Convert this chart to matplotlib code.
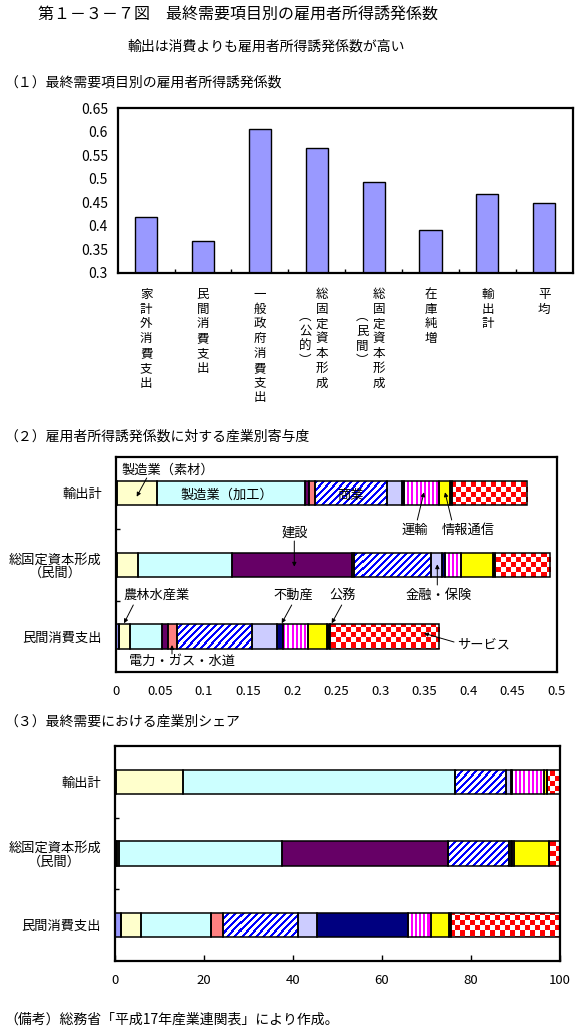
import numpy as np
import matplotlib.pyplot as plt
from matplotlib.colors import to_rgb

plt.rcParams['font.family'] = ['Noto Sans CJK JP', 'DejaVu Sans']
plt.rcParams['font.size'] = 9.5

# ---- data ----
# (1) coefficients by final demand item
cats1 = ['家計外消費支出', '民間消費支出', '一般政府消費支出', '総固定資本形成（公的）',
         '総固定資本形成（民間）', '在庫純増', '輸出計', '平均']
coef1 = [0.418, 0.367, 0.605, 0.565, 0.4925, 0.390, 0.467, 0.448]

# industries (stack order) and their fills
industries = ['農林水産業', '鉱業', '製造業（素材）', '製造業（加工）', '建設', '電力・ガス・水道',
              '商業', '金融・保険', '不動産', '運輸', '情報通信', '公務', 'サービス']
fills = [('solid', '#9999FF'), ('solid', '#000000'), ('solid', '#FFFFCC'), ('solid', '#CCFFFF'),
         ('solid', '#660066'), ('solid', '#FF8080'), ('diag', '#0000FF'), ('solid', '#CCCCFF'),
         ('solid', '#000080'), ('vert', '#FF00FF'), ('solid', '#FFFF00'), ('solid', '#000000'),
         ('check', '#FF0000')]

rows = ['民間消費支出', '総固定資本形成\n（民間）', '輸出計']   # bottom -> top

# (2) contribution by industry
contrib_consume = [0.0035, 0.0005, 0.012, 0.0368, 0.0068, 0.0096, 0.0857, 0.0276, 0.0075, 0.028, 0.022, 0.0025, 0.1245]
contrib_invest = [0.0005, 0.0005, 0.024, 0.1065, 0.136, 0.003, 0.0865, 0.0135, 0.0025, 0.019, 0.036, 0.002, 0.0625]
contrib_export = [0.0005, 0.0005, 0.0458, 0.168, 0.0042, 0.0071, 0.0817, 0.0165, 0.003, 0.039, 0.0125, 0.002, 0.086]

# (3) industry share of final demand (%)
share_consume = [1.4, 0.0, 4.4, 15.7, 0.0, 2.7, 16.9, 4.3, 20.5, 5.2, 3.9, 0.5, 24.5]
share_invest = [0.2, 0.3, 0.3, 36.8, 37.3, 0.0, 13.7, 0.5, 0.2, 0.4, 7.8, 0.0, 2.5]
share_export = [0.1, 0.1, 15.2, 61.0, 0.0, 0.1, 11.5, 1.0, 0.2, 7.2, 0.8, 0.0, 2.8]

W, H = 581, 1033
fig = plt.figure(figsize=(W / 100, H / 100), dpi=100)


def ax_at(x0, y0, x1, y1):
    return fig.add_axes([x0 / W, 1 - y1 / H, (x1 - x0) / W, (y1 - y0) / H])


def ftext(x, y, s, **kw):
    fig.text(x / W, 1 - y / H, s, va='center', **kw)


def frame(ax):
    for sp in ax.spines.values():
        sp.set_linewidth(1.6)


ftext(38, 15, '第１－３－７図　最終需要項目別の雇用者所得誘発係数', fontsize=11.5)
ftext(266, 47, '輸出は消費よりも雇用者所得誘発係数が高い', ha='center', fontsize=10)
ftext(4, 83, '（１）最終需要項目別の雇用者所得誘発係数', fontsize=10)
ftext(4, 437, '（２）雇用者所得誘発係数に対する産業別寄与度', fontsize=10)
ftext(4, 722, '（３）最終需要における産業別シェア', fontsize=10)
ftext(4, 1020, '（備考）総務省「平成17年産業連関表」により作成。', fontsize=10)

# ---- (1) ----
ax1 = ax_at(117.7, 108.3, 572.7, 272.7)
x = np.arange(len(cats1))
ax1.bar(x, coef1, width=0.39, color='#9999FF', edgecolor='black', linewidth=1.0, zorder=2)
ax1.set_xlim(-0.5, len(cats1) - 0.5)
ax1.set_ylim(0.3, 0.65)
yt = np.arange(0.3, 0.651, 0.05)
ax1.set_yticks(yt)
ax1.set_yticklabels(['%g' % round(v, 2) for v in yt], fontsize=10)
ax1.tick_params(axis='y', length=0, pad=7)
ax1.set_xticks(x)
ax1.set_xticklabels([])
ax1.tick_params(axis='x', which='major', length=0)
ax1.set_xticks(np.arange(0.5, len(cats1) - 0.5), minor=True)
ax1.tick_params(axis='x', which='minor', direction='in', length=3, width=1)
frame(ax1)

px = 0.72  # points per pixel
for i, lab in enumerate(cats1):
    if '（' in lab:
        main, par = lab.split('（')
        par = '︵' + par.rstrip('）') + '︶'
        cols = [(main, 5, 0), (par, -11.5, (len(main) - len(par)) / 2)]
    else:
        cols = [(lab, 0, 0)]
    for s, dx, shift in cols:
        for k, ch in enumerate(s):
            ax1.annotate(ch, xy=(i, 0), xycoords=ax1.get_xaxis_transform(),
                         xytext=(dx * px, -(15 + (k + shift) * 14.8) * px),
                         textcoords='offset points', ha='center', va='top', fontsize=9)


# ---- stacked helpers ----
def pattern_img(kind, w, h, color):
    r, c = np.mgrid[0:h, 0:w]
    if kind == 'diag':
        mask = ((c + r) % 7) < 3
    elif kind == 'vert':
        mask = (c % 4) < 2
    else:
        mask = ((c // 5) + (r // 5)) % 2 == 0
    img = np.ones((h, w, 3))
    img[mask] = to_rgb(color)
    return img


def stacked(ax, data, height, xmax):
    data = np.array(data)
    ypos = np.arange(len(data))
    ax.set_xlim(0, xmax)
    ax.set_ylim(-0.5, len(data) - 0.5)
    w, h = int(round(ax.bbox.width)), int(round(ax.bbox.height))
    left = np.zeros(len(data))
    for j in range(len(industries)):
        vals = data[:, j]
        kind, col = fills[j]
        face = col if kind == 'solid' else 'white'
        bars = ax.barh(ypos, vals, left=left, height=height, color=face, linewidth=0, zorder=1)
        if kind != 'solid':
            img = pattern_img(kind, w, h, col)
            for p in bars:
                im = ax.imshow(img, extent=(0, xmax, -0.5, len(data) - 0.5), origin='upper',
                               interpolation='nearest', aspect='auto', zorder=2)
                im.set_clip_path(p)
        ax.barh(ypos, vals, left=left, height=height, fill=False, edgecolor='black',
                linewidth=1.1, zorder=3)
        left += vals
    ax.set_xlim(0, xmax)
    ax.set_ylim(-0.5, len(data) - 0.5)
    ax.set_yticks(ypos)
    ax.set_yticklabels(rows, linespacing=1.05, ha='right', multialignment='center')
    ax.tick_params(axis='y', which='major', length=0, pad=10)
    ax.set_yticks(np.arange(0.5, len(data) - 0.5), minor=True)
    ax.tick_params(axis='y', which='minor', direction='in', length=3, width=1)
    frame(ax)


# ---- (2) ----
ax2 = ax_at(115.7, 457.3, 556.7, 672.3)
stacked(ax2, [contrib_consume, contrib_invest, contrib_export], 0.34, 0.5)
xt2 = np.arange(0, 0.501, 0.05)
ax2.set_xticks(xt2)
ax2.set_xticklabels(['%g' % round(v, 2) for v in xt2])
ax2.tick_params(axis='x', length=0, pad=9)


def d2(px_, py_):
    return ((px_ - 115.7) / 882, 2.5 - (py_ - 457.3) / 71.67)


notes = [
    ('製造業（素材）', (121, 470), 'left', (146.7, 478), (136.7, 496.7)),
    ('製造業（加工）', (227, 495), 'center', None, None),
    ('商業', (350.5, 495), 'center', None, None),
    ('運輸', (415, 530), 'center', (417.3, 520), (424, 492.3)),
    ('情報通信', (468.3, 530), 'center', (451.7, 520), (445, 492.3)),
    ('建設', (295, 533.3), 'center', (294.3, 541), (294.3, 566.7)),
    ('金融・保険', (438.3, 595), 'center', (437.3, 585), (437.3, 564.3)),
    ('農林水産業', (157, 595.7), 'center', (133.3, 605), (124, 623.3)),
    ('不動産', (293.7, 595.7), 'center', (291.7, 605), (281.7, 623.3)),
    ('公務', (343, 595.7), 'center', (341.7, 605), (331.7, 623.3)),
    ('サービス', (483.3, 645), 'center', (454, 642), (424, 633.3)),
    ('電力・ガス・水道', (182, 661), 'center', (172, 654), (172, 645)),
]
for lab, txy, ha, a0, a1 in notes:
    ax2.text(*d2(*txy), lab, ha=ha, va='center', zorder=6)
    if a0 is not None:
        ax2.annotate('', xy=d2(*a1), xytext=d2(*a0), zorder=6,
                     arrowprops=dict(arrowstyle='-|>', lw=0.7, color='black',
                                     mutation_scale=6, shrinkA=0, shrinkB=0))

# ---- (3) ----
ax3 = ax_at(115, 746.3, 559.7, 961)
stacked(ax3, [share_consume, share_invest, share_export], 0.34, 100)
ax3.set_xticks(np.arange(0, 101, 20))
ax3.tick_params(axis='x', direction='in', length=4, width=1, pad=9)

fig.savefig('out.png', dpi=100)
